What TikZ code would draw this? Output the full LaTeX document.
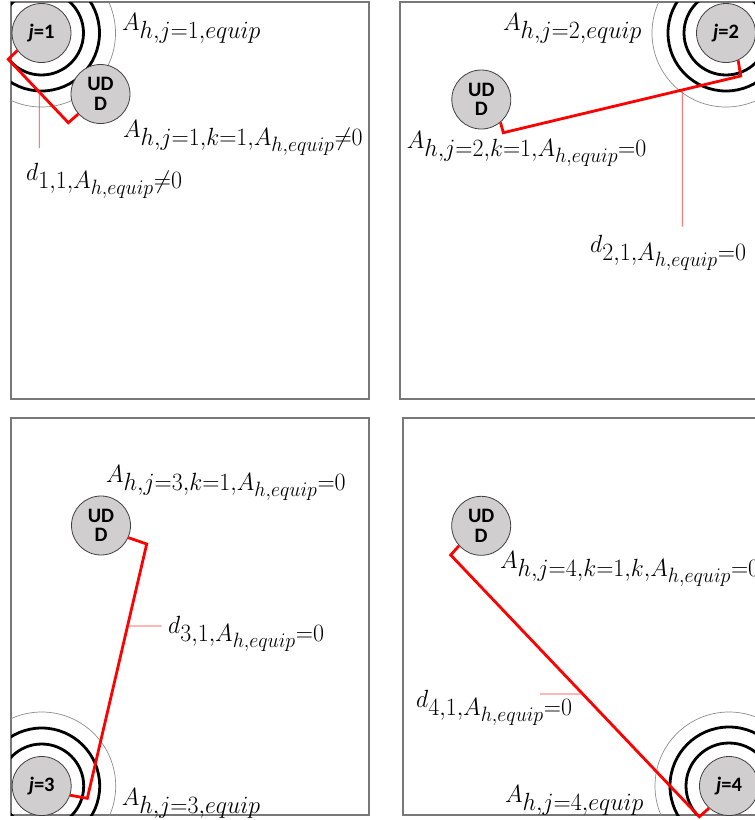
\documentclass[tikz,border=0pt]{standalone}
\usepackage{fontspec}
\usepackage{graphicx}
\newfontfamily\labfont{Carlito}
\usetikzlibrary{calc}
% full-size first-level subscripts for the set-size labels
\DeclareMathSizes{24.88}{24.88}{24.88}{20.74}
\newcommand\setlab[1]{\scalebox{0.96}[1]{$#1$}}

\definecolor{discfill}{RGB}{208,206,206}
\definecolor{discedge}{RGB}{64,64,64}
\definecolor{framegray}{RGB}{120,120,120}
\definecolor{ringthin}{RGB}{140,140,140}

\tikzset{
  disc/.style={circle, draw=discedge, line width=0.8pt, fill=discfill,
    minimum size=59pt, inner sep=0pt, align=center,
    font=\labfont\bfseries\fontsize{20.5}{19.5}\selectfont},
  ringthick/.style={line width=2.8pt, draw=black},
  ringfine/.style={line width=0.7pt, draw=ringthin},
  panel/.style={draw=framegray, line width=1.5pt},
  dimline/.style={draw=red, line width=2.8pt, line join=miter},
  leader/.style={draw=red!80, line width=0.8pt},
  mlab/.style={anchor=base west, inner sep=0pt, font=\fontsize{24.88}{30}\selectfont},
}

\begin{document}
\begin{tikzpicture}[x=1pt, y=-1pt]
\clip (0,0) rectangle (755,820);

% panel frames
\draw[panel] (11,2) rectangle (369,399);
\draw[panel] (400,2) rectangle (758,399);
\draw[panel] (11,418) rectangle (369,815);
\draw[panel] (403,418) rectangle (761,815);

% coverage rings, kept inside their panels
\begin{scope}
  \clip (11,2) rectangle (369,399);
  \draw[ringthick] (41.5,33) circle[radius=42] (41.5,33) circle[radius=58];
  \draw[ringfine] (41.5,33) circle[radius=74];
\end{scope}
\begin{scope}
  \clip (400,2) rectangle (758,399);
  \draw[ringthick] (726,33) circle[radius=42] (726,33) circle[radius=58];
  \draw[ringfine] (726,33) circle[radius=74];
\end{scope}
\begin{scope}
  \clip (11,418) rectangle (369,815);
  \draw[ringthick] (41.7,786) circle[radius=42] (41.7,786) circle[radius=58];
  \draw[ringfine] (41.7,786) circle[radius=74];
\end{scope}
\begin{scope}
  \clip (403,418) rectangle (761,815);
  \draw[ringthick] (729,786) circle[radius=43] (729,786) circle[radius=59];
  \draw[ringfine] (729,786) circle[radius=74];
\end{scope}

% access points and user devices
\node[disc] (J1) at (41.5,33) {{\itshape j}=1};
\node[disc] (U1) at (100.5,94) {UD\\D};
\node[disc] (J2) at (726,33) {{\itshape j}=2};
\node[disc] (U2) at (481.3,99.5) {UD\\D};
\node[disc] (U3) at (101,525.5) {UD\\D};
\node[disc] (J3) at (41.7,786) {{\itshape j}=3};
\node[disc] (U4) at (481.2,525.8) {UD\\D};
\node[disc] (J4) at (729,786) {{\itshape j}=4};

% distance dimension lines
\coordinate (a1) at (8.3,59.3);   \coordinate (b1) at (68.3,122.7);
\coordinate (a2) at (740.7,76);   \coordinate (b2) at (503.3,132.7);
\coordinate (a3) at (146.7,544);  \coordinate (b3) at (87.3,798.3);
\coordinate (a4) at (450.7,555);  \coordinate (b4) at (699.3,816.7);
\draw[dimline] (J1.216) -- (a1) -- (b1) -- (U1.222);
\draw[dimline] (J2.-66) -- (a2) -- (b2) -- (U2.-50);
\draw[dimline] (U3.-24) -- (a3) -- (b3) -- (J3.-18);
\draw[dimline] (U4.222) -- (a4) -- (b4) -- (J4.228);

% leaders to the distance labels
\coordinate (e1) at (39.3,148);
\coordinate (e2) at (682.3,226.7);
\coordinate (e3) at (161.7,626);
\coordinate (e4) at (540,694);
\draw[leader] ($(a1)!0.517!(b1)$) -- (e1);
\draw[leader] ($(a2)!0.246!(b2)$) -- (e2);
\draw[leader] ($(a3)!0.322!(b3)$) -- (e3);
\draw[leader] ($(a4)!0.531!(b4)$) -- (e4);

% labels
\node[mlab] (l1a) at (122,30) {\setlab{A_{h,j=1,equip}}};
\node[mlab] (l1b) at (123,137) {\setlab{A_{h,j=1,k=1,A_{h,equip}\neq 0}}};
\node[mlab] (l1d) at (26,180) {\setlab{d_{1,1,A_{h,equip}\neq 0}}};

\node[mlab] (l2a) at (503,30) {\setlab{A_{h,j=2,equip}}};
\node[mlab] (l2b) at (406.7,148) {\setlab{A_{h,j=2,k=1,A_{h,equip}=0}}};
\node[mlab] (l2d) at (590,252) {\setlab{d_{2,1,A_{h,equip}=0}}};

\node[mlab] (l3b) at (106,482) {\setlab{A_{h,j=3,k=1,A_{h,equip}=0}}};
\node[mlab] (l3d) at (168,633) {\setlab{d_{3,1,A_{h,equip}=0}}};
\node[mlab] (l3a) at (121.7,805) {\setlab{A_{h,j=3,equip}}};

\node[mlab] (l4b) at (500,568) {\setlab{A_{h,j=4,k=1,k,A_{h,equip}=0}}};
\node[mlab] (l4d) at (416,707) {\setlab{d_{4,1,A_{h,equip}=0}}};
\node[mlab] (l4a) at (505,802) {\setlab{A_{h,j=4,equip}}};
\end{tikzpicture}
\end{document}
